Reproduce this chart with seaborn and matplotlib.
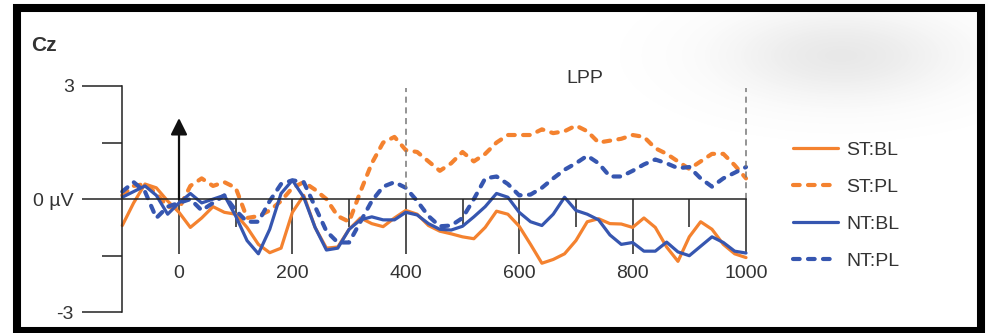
"""ERP waveform at Cz: ST/NT x BL/PL, LPP window marked."""
import matplotlib

matplotlib.use("Agg")
import matplotlib.pyplot as plt
import numpy as np
import pandas as pd
import seaborn as sns
from matplotlib.patches import Rectangle

sns.set_style("white")
plt.rcParams["font.family"] = ["Liberation Sans", "DejaVu Sans"]

# time axis (ms), sampled every 20 ms
time_ms = list(range(-100, 1001, 20))

st_bl = [-0.7, -0.1, 0.4, 0.3, -0.05, -0.35, -0.75, -0.5, -0.2, -0.35,
         -0.4, -0.75, -1.2, -1.42, -1.3, -0.35, 0.1, -0.75, -1.3, -1.27,
         -0.8, -0.5, -0.65, -0.73, -0.5, -0.3, -0.4, -0.7, -0.85, -0.92,
         -1.0, -1.05, -0.75, -0.32, -0.4, -0.72, -1.2, -1.7, -1.6, -1.45,
         -1.1, -0.6, -0.52, -0.65, -0.66, -0.75, -0.5, -0.75, -1.27, -1.65,
         -1.0, -0.6, -0.8, -1.2, -1.45, -1.55]
st_pl = [0.1, 0.35, 0.4, 0.15, -0.2, -0.25, 0.35, 0.55, 0.35, 0.45,
         0.3, -0.5, -0.45, -0.3, -0.05, 0.3, 0.45, 0.25, 0.0, -0.45,
         -0.6, 0.2, 0.95, 1.5, 1.65, 1.3, 1.25, 1.0, 0.75, 0.95,
         1.25, 1.0, 1.2, 1.5, 1.7, 1.7, 1.7, 1.85, 1.75, 1.8,
         1.95, 1.8, 1.5, 1.55, 1.6, 1.7, 1.65, 1.35, 1.2, 1.0,
         0.8, 1.0, 1.2, 1.2, 0.9, 0.55]
nt_bl = [0.05, 0.2, 0.35, 0.1, -0.4, -0.1, 0.15, -0.1, 0.0, 0.1,
         -0.45, -1.1, -1.45, -0.8, 0.15, 0.5, 0.05, -0.75, -1.35, -1.3,
         -0.8, -0.55, -0.47, -0.55, -0.55, -0.35, -0.42, -0.65, -0.8, -0.82,
         -0.72, -0.47, -0.2, 0.15, 0.05, -0.35, -0.6, -0.7, -0.4, 0.05,
         -0.3, -0.4, -0.55, -0.95, -1.2, -1.15, -1.38, -1.38, -1.14, -1.4,
         -1.5, -1.25, -1.0, -1.15, -1.38, -1.43]
nt_pl = [0.2, 0.45, 0.2, -0.5, -0.2, -0.1, 0.0, -0.3, -0.1, 0.1,
         -0.3, -0.6, -0.6, -0.05, 0.4, 0.5, 0.45, -0.2, -0.85, -1.15,
         -1.15, -0.6, -0.05, 0.33, 0.45, 0.3, -0.05, -0.45, -0.72, -0.7,
         -0.5, 0.0, 0.55, 0.6, 0.4, 0.1, 0.12, 0.3, 0.55, 0.78,
         0.95, 1.15, 0.95, 0.6, 0.6, 0.75, 0.92, 1.05, 0.95, 0.82,
         0.85, 0.55, 0.33, 0.55, 0.7, 0.85]

labels = ["ST:BL", "ST:PL", "NT:BL", "NT:PL"]
x_major = [0, 200, 400, 600, 800, 1000]
x_minor = [100, 300, 500, 700, 900]
y_major = [-3, 0, 3]
y_major_labels = ["-3", "0 µV", "3"]
y_minor = [-1.5, 1.5]
lpp_window = [400, 1000]

ORANGE = "#F4822F"
BLUE = "#3656B0"
INK = "#333333"
AXC = "#222222"

df = pd.DataFrame({
    "time": time_ms * 4,
    "amp": st_bl + st_pl + nt_bl + nt_pl,
    "cond": np.repeat(labels, len(time_ms)),
})

fig = plt.figure(figsize=(9.88, 3.33), dpi=100)

# background layer: soft grey smudge and the thick black frame
bg = fig.add_axes([0, 0, 1, 1], zorder=0)
bg.set_xlim(0, 988)
bg.set_ylim(333, 0)
bg.axis("off")
gx, gy = np.meshgrid(np.arange(988), np.arange(333))
blob = np.exp(-(((gx - 840) / 115.0) ** 2 + ((gy - 55) / 45.0) ** 2))
rgba = np.zeros((333, 988, 4))
rgba[..., :3] = 0.45
rgba[..., 3] = 0.16 * blob
bg.imshow(rgba, extent=(0, 988, 333, 0), interpolation="bilinear")
bg.add_patch(Rectangle((17, 8), 964, 323, fill=False, lw=5.8, ec="black"))

ax = fig.add_axes([0, 0, 1, 1], zorder=1)
ax.patch.set_alpha(0)

styles = {
    "ST:BL": dict(color=ORANGE, linewidth=2.3, linestyle="-"),
    "ST:PL": dict(color=ORANGE, linewidth=3.0, linestyle=(0, (1.6, 2.0))),
    "NT:BL": dict(color=BLUE, linewidth=2.3, linestyle="-"),
    "NT:PL": dict(color=BLUE, linewidth=3.0, linestyle=(0, (1.6, 2.0))),
}
for name in labels:
    sub = df[df["cond"] == name]
    sns.lineplot(data=sub, x="time", y="amp", estimator=None, ax=ax, label=name,
                 dash_capstyle="round", solid_capstyle="round",
                 solid_joinstyle="round", dash_joinstyle="round", **styles[name])

ax.set_xlim(-315.7, 1426.8)
ax.set_ylim(-3.55, 5.28)
ax.set_xlabel("")
ax.set_ylabel("")

for side in ("top", "right"):
    ax.spines[side].set_visible(False)
ax.spines["left"].set_position(("data", -100))
ax.spines["left"].set_bounds(-3, 3)
ax.spines["bottom"].set_position(("data", 0))
ax.spines["bottom"].set_bounds(-100, 1000)
for side in ("left", "bottom"):
    ax.spines[side].set_color(AXC)
    ax.spines[side].set_linewidth(1.1)

ax.set_xticks(x_major)
ax.set_xticks(x_minor, minor=True)
ax.set_yticks(y_major, y_major_labels)
ax.set_yticks(y_minor, minor=True)
ax.tick_params(which="both", bottom=True, left=True, top=False, right=False)
ax.tick_params(axis="x", which="major", length=39.5, width=1.1, color=AXC,
               direction="out", pad=8, labelsize=14, labelcolor=INK)
ax.tick_params(axis="x", which="minor", length=20, width=1.1, color=AXC,
               direction="out")
ax.tick_params(axis="y", which="major", length=29, width=1.1, color=AXC,
               direction="out", pad=6, labelsize=14, labelcolor=INK)
ax.tick_params(axis="y", which="minor", length=14.4, width=1.1, color=AXC,
               direction="out")

# stimulus onset arrow and LPP window
ax.annotate("", xy=(0, 2.15), xytext=(0, 0),
            arrowprops=dict(arrowstyle="-|>,head_length=0.5,head_width=0.25",
                            lw=1.6, color="#111111", mutation_scale=20,
                            shrinkA=0, shrinkB=0))
ax.vlines(lpp_window, 0, 2.95, colors="#777777", linestyles=(0, (4, 3)), lw=1.1)
ax.text(sum(lpp_window) / 2 + 15, 3.2, "LPP", ha="center", va="center",
        fontsize=14, color=INK)
ax.text(-238, 4.08, "Cz", ha="center", va="center", fontsize=15,
        fontweight="bold", color=INK)

ax.legend(loc="upper left", bbox_to_anchor=(793 / 988, 1 - 141 / 333),
          frameon=False, fontsize=14, handlelength=2.3, handletextpad=0.45,
          labelspacing=1.0, borderpad=0, borderaxespad=0, labelcolor=INK)

fig.savefig("out.png", dpi=100)
plt.close(fig)
